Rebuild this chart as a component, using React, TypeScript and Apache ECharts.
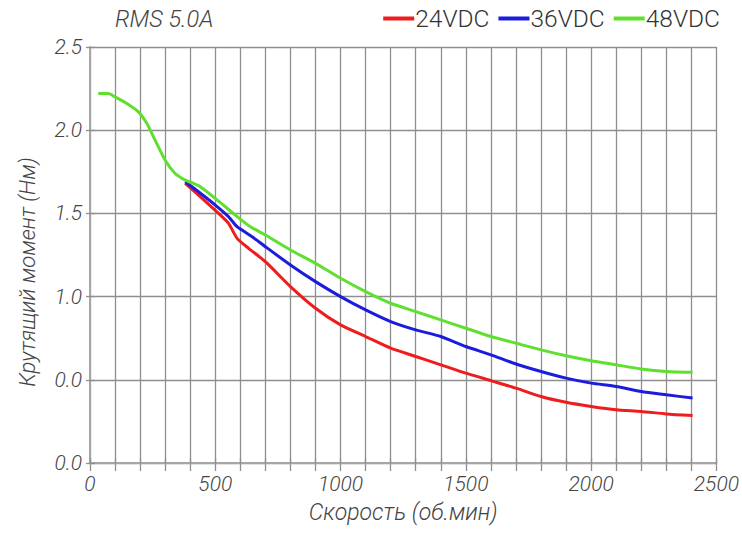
import React, { useEffect, useRef } from "react";
import * as echarts from "echarts";

const seriesNames = ["24VDC", "36VDC", "48VDC"];
const seriesColors = ["#ee1c1c", "#1c1cdc", "#5fe02f"];

const rpm24 = [380, 433, 513, 553, 587, 633, 700, 800, 900, 1000, 1100, 1200, 1300, 1400, 1500, 1600, 1700, 1800, 1900, 2000, 2100, 2200, 2300, 2405];
const torque24 = [1.68, 1.61, 1.5, 1.44, 1.35, 1.29, 1.21, 1.06, 0.93, 0.83, 0.76, 0.69, 0.64, 0.59, 0.54, 0.495, 0.45, 0.4, 0.365, 0.34, 0.32, 0.31, 0.295, 0.285];

const rpm36 = [380, 433, 500, 553, 587, 647, 700, 800, 900, 1000, 1100, 1200, 1300, 1400, 1500, 1600, 1700, 1800, 1900, 2000, 2100, 2200, 2300, 2405];
const torque36 = [1.69, 1.63, 1.55, 1.48, 1.42, 1.36, 1.3, 1.19, 1.09, 1.0, 0.92, 0.85, 0.8, 0.76, 0.7, 0.65, 0.595, 0.55, 0.51, 0.48, 0.46, 0.43, 0.41, 0.39];

const rpm48 = [33, 73, 100, 147, 193, 227, 260, 300, 340, 380, 413, 440, 500, 580, 640, 700, 800, 900, 1000, 1100, 1200, 1300, 1400, 1500, 1600, 1700, 1800, 1900, 2000, 2100, 2200, 2300, 2405];
const torque48 = [2.22, 2.22, 2.2, 2.16, 2.11, 2.04, 1.94, 1.82, 1.74, 1.7, 1.68, 1.66, 1.59, 1.49, 1.42, 1.37, 1.28, 1.2, 1.11, 1.03, 0.96, 0.91, 0.86, 0.81, 0.76, 0.72, 0.68, 0.645, 0.615, 0.59, 0.565, 0.55, 0.545];

const yTickValues = [0, 0.5, 1, 1.5, 2, 2.5];
const yTickLabels = ["0.0", "0.0", "1.0", "1.5", "2.0", "2.5"];
const xLabelStep = 500;

const titleText = "RMS 5.0A";
const xName = "Скорость (об.мин)";
const yName = "Крутящий момент (Нм)";

const pairs = (xs: number[], ys: number[]) => xs.map((x, i) => [x, ys[i]]);

const FONT = "Roboto, 'Noto Sans', sans-serif";
const GRID_COLOR = "#8f8f8f";
const AXIS_COLOR = "#a6a6a6";
const TEXT_COLOR = "#444";

export default function App() {
  const ref = useRef<HTMLDivElement>(null);
  useEffect(() => {
    document.body.style.margin = "0";
    if (!ref.current) return;
    const chart = echarts.init(ref.current, null, { renderer: "svg" });
    const data = [pairs(rpm24, torque24), pairs(rpm36, torque36), pairs(rpm48, torque48)];
    chart.setOption({
      animation: false,
      backgroundColor: "#ffffff",
      title: {
        text: titleText,
        left: 115,
        top: 7,
        padding: 0,
        textStyle: {
          fontFamily: FONT,
          fontSize: 23.5,
          fontStyle: "italic",
          fontWeight: 300,
          color: TEXT_COLOR,
        },
      },
      legend: {
        right: 22,
        top: 6,
        padding: 0,
        itemWidth: 31,
        itemHeight: 4,
        itemGap: 9,
        icon: "rect",
        data: seriesNames,
        textStyle: {
          fontFamily: FONT,
          fontSize: 24.5,
          fontWeight: 300,
          color: "#333",
          padding: [0, 0, 0, -4],
        },
      },
      grid: { left: 90, right: 25, top: 47, bottom: 73, containLabel: false },
      xAxis: [
        {
          type: "value",
          min: 0,
          max: 2500,
          interval: 100,
          name: xName,
          nameLocation: "middle",
          nameGap: 38,
          nameTextStyle: {
            fontFamily: FONT,
            fontSize: 23,
            fontStyle: "italic",
            fontWeight: 300,
            color: TEXT_COLOR,
          },
          axisLine: { show: true, lineStyle: { color: AXIS_COLOR, width: 2 } },
          axisTick: { show: true, length: 8, lineStyle: { color: GRID_COLOR, width: 1.3 } },
          splitLine: { show: true, lineStyle: { color: GRID_COLOR, width: 1.3 } },
          axisLabel: {
            margin: 10,
            fontFamily: FONT,
            fontSize: 21,
            fontStyle: "italic",
            fontWeight: 300,
            color: TEXT_COLOR,
            formatter: (v: number) => (v % xLabelStep === 0 ? String(v) : ""),
          },
        },
        {
          type: "value",
          position: "top",
          min: 0,
          max: 2500,
          interval: 100,
          axisLine: { show: false },
          axisTick: { show: true, length: 5, lineStyle: { color: GRID_COLOR, width: 1.3 } },
          splitLine: { show: false },
          axisLabel: { show: false },
        },
      ],
      yAxis: [
        {
          type: "value",
          min: 0,
          max: 2.5,
          interval: 0.5,
          axisLine: { show: true, lineStyle: { color: AXIS_COLOR, width: 2 } },
          axisTick: { show: true, length: 4, lineStyle: { color: GRID_COLOR, width: 1.3 } },
          splitLine: { show: true, lineStyle: { color: GRID_COLOR, width: 1.3 } },
          axisLabel: {
            margin: 8,
            fontFamily: FONT,
            fontSize: 21,
            fontStyle: "italic",
            fontWeight: 300,
            color: TEXT_COLOR,
            formatter: (v: number) => {
              const i = yTickValues.findIndex((t) => Math.abs(t - v) < 1e-6);
              return i >= 0 ? yTickLabels[i] : "";
            },
          },
        },
        {
          type: "value",
          position: "right",
          min: 0,
          max: 2.5,
          interval: 0.5,
          axisLine: { show: false },
          axisTick: { show: true, length: 5, lineStyle: { color: GRID_COLOR, width: 1.3 } },
          splitLine: { show: false },
          axisLabel: { show: false },
        },
      ],
      graphic: [
        {
          type: "text",
          x: 27,
          y: 272,
          rotation: Math.PI / 2,
          style: {
            text: yName,
            fill: TEXT_COLOR,
            font: `italic 300 22px ${FONT}`,
            align: "center",
            verticalAlign: "middle",
            textAlign: "center",
            textVerticalAlign: "middle",
          },
        },
      ],
      series: seriesNames.map((name, i) => ({
        name,
        type: "line",
        xAxisIndex: 0,
        yAxisIndex: 0,
        data: data[i],
        smooth: 0.2,
        showSymbol: false,
        symbol: "none",
        lineStyle: { color: seriesColors[i], width: 3 },
        itemStyle: { color: seriesColors[i] },
        z: 3 + i,
      })),
    });
    return () => chart.dispose();
  }, []);
  return <div ref={ref} style={{ width: 742, height: 536 }} />;
}
